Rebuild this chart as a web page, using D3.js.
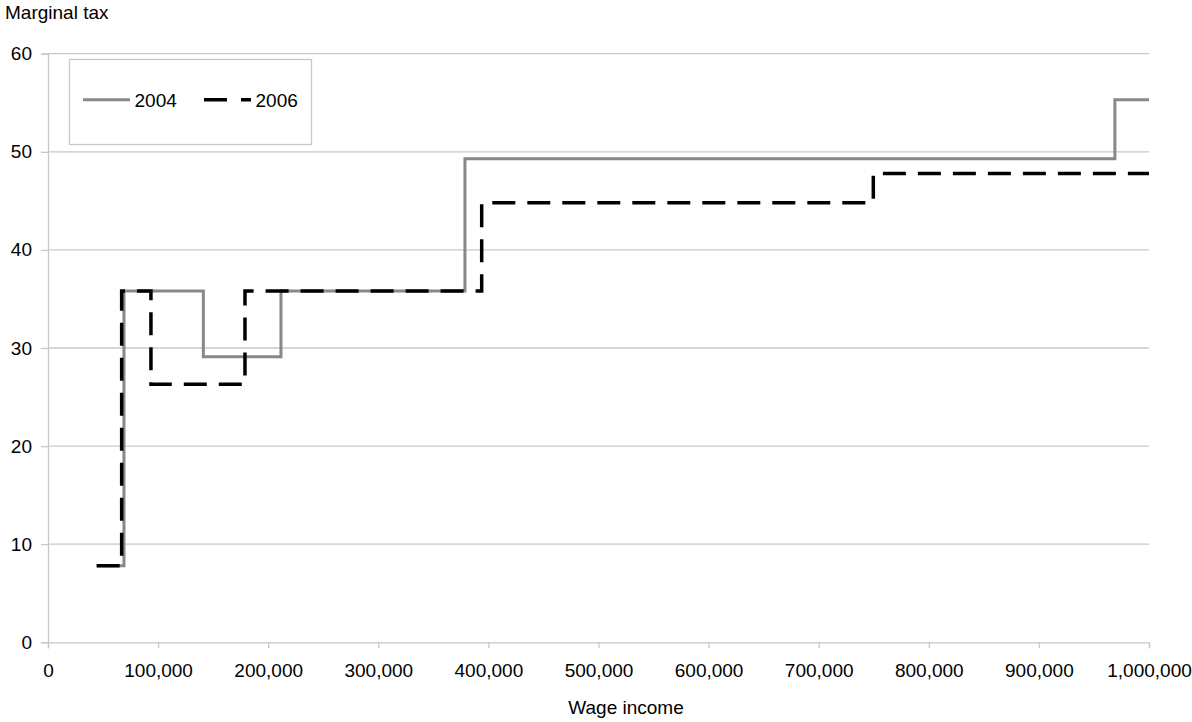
<!DOCTYPE html>
<html>
<head>
<meta charset="utf-8">
<script src="https://cdn.jsdelivr.net/npm/d3@7"></script>
<style>
  body { margin: 0; background: #fff; }
  text { font-family: "Liberation Sans", Arial, sans-serif; fill: #000; }
</style>
</head>
<body>
<svg id="chart" width="1192" height="722"></svg>
<script>
// step breakpoints (income where a rate starts) and the marginal rate from there
const income2004 = [44200, 69000, 141100, 211600, 378700, 969000, 1000000];
const tax2004 = [7.8, 35.8, 29.1, 35.8, 49.3, 55.3, 55.3];
const income2006 = [44200, 66900, 93500, 178900, 393900, 749600, 1000000];
const tax2006 = [7.8, 35.8, 26.3, 35.8, 44.8, 47.8, 47.8];
const xTicks = [0, 100000, 200000, 300000, 400000, 500000, 600000, 700000, 800000, 900000, 1000000];
const yTicks = [0, 10, 20, 30, 40, 50, 60];
const seriesNames = ["2004", "2006"];

const svg = d3.select("#chart");
const plotLeft = 48, plotRight = 1149, plotTop = 53.7, plotBottom = 642.3;
const gridColor = "#c8c8c8";
const fontSize = 19;

const x = d3.scaleLinear().domain([0, 1000000]).range([plotLeft, plotRight]);
const y = d3.scaleLinear().domain([0, 60]).range([plotBottom, plotTop]);

// horizontal gridlines
svg.append("g")
    .selectAll("line")
    .data(yTicks.filter(d => d > 0))
    .enter().append("line")
    .attr("x1", plotLeft).attr("x2", plotRight)
    .attr("y1", d => y(d)).attr("y2", d => y(d))
    .attr("stroke", gridColor).attr("stroke-width", 1.3);

// y axis
const yAxis = svg.append("g")
    .attr("transform", `translate(${plotLeft},0)`)
    .call(d3.axisLeft(y).tickValues(yTicks).tickSize(7).tickPadding(9).tickFormat(d3.format("d")));
yAxis.selectAll("path, line").attr("stroke", gridColor).attr("stroke-width", 1.3);
yAxis.selectAll("text").style("font-size", fontSize + "px").attr("font-family", null);

// x axis
const xAxis = svg.append("g")
    .attr("transform", `translate(0,${plotBottom})`)
    .call(d3.axisBottom(x).tickValues(xTicks).tickSize(6).tickSizeOuter(6).tickPadding(15).tickFormat(d3.format(",")));
xAxis.selectAll("path, line").attr("stroke", gridColor).attr("stroke-width", 1.3);
xAxis.selectAll("text").style("font-size", fontSize + "px").attr("font-family", null);

// axis titles
svg.append("text")
    .attr("x", 5).attr("y", 19)
    .style("font-size", fontSize + "px")
    .text("Marginal tax");

svg.append("text")
    .attr("x", 626).attr("y", 714)
    .attr("text-anchor", "middle")
    .style("font-size", fontSize + "px")
    .text("Wage income");

// step lines
const line = d3.line()
    .x(d => x(d[0]))
    .y(d => y(d[1]))
    .curve(d3.curveStepAfter);

svg.append("path")
    .datum(d3.zip(income2004, tax2004))
    .attr("d", line)
    .attr("fill", "none")
    .attr("stroke", "#888888")
    .attr("stroke-width", 3);

svg.append("path")
    .datum(d3.zip(income2006, tax2006))
    .attr("d", line)
    .attr("fill", "none")
    .attr("stroke", "#000")
    .attr("stroke-width", 3.5)
    .attr("stroke-dasharray", "23,12");

// legend
const legend = svg.append("g");
legend.append("rect")
    .attr("x", 69.5).attr("y", 59.5)
    .attr("width", 242).attr("height", 85)
    .attr("fill", "#fff")
    .attr("stroke", gridColor).attr("stroke-width", 1.3);

legend.append("line")
    .attr("x1", 83).attr("x2", 130).attr("y1", 99.7).attr("y2", 99.7)
    .attr("stroke", "#888888").attr("stroke-width", 3);
legend.append("text")
    .attr("x", 134.5).attr("y", 106.5)
    .style("font-size", fontSize + "px")
    .text(seriesNames[0]);

legend.append("line")
    .attr("x1", 204).attr("x2", 251).attr("y1", 99.7).attr("y2", 99.7)
    .attr("stroke", "#000").attr("stroke-width", 3.5)
    .attr("stroke-dasharray", "23,14");
legend.append("text")
    .attr("x", 255.5).attr("y", 106.5)
    .style("font-size", fontSize + "px")
    .text(seriesNames[1]);
</script>
</body>
</html>
